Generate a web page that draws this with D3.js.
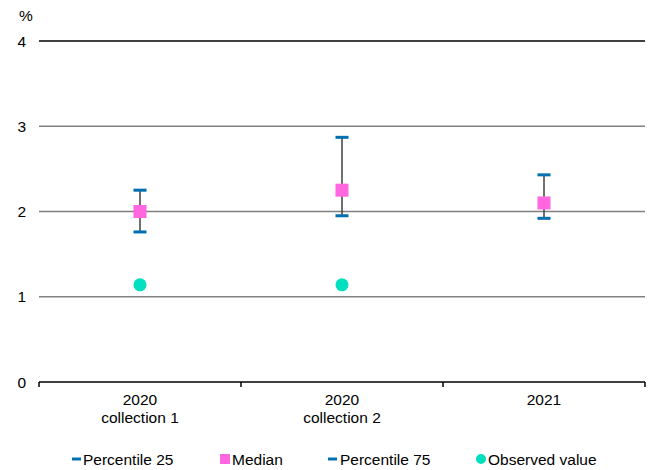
<!DOCTYPE html>
<html><head><meta charset="utf-8">
<script src="https://cdn.jsdelivr.net/npm/d3@7"></script>
<style>body{margin:0;background:#fff;} text{font-family:"Liberation Sans",Arial,sans-serif;}</style>
</head><body><svg id="c" width="654" height="470"></svg>
<script>
const categories = [["2020","collection 1"],["2020","collection 2"],["2021"]];
const p25 = [1.76, 1.95, 1.92];
const median = [2.0, 2.25, 2.10];
const p75 = [2.25, 2.87, 2.43];
const observed = [1.14, 1.14, null];
const yTicks = [0,1,2,3,4];

const FS = 15.5;
const svg = d3.select("#c");
const x = d3.scaleBand().domain(d3.range(categories.length)).range([39,645]);
const y = d3.scaleLinear().domain([0,4]).range([382,41]);

// gridlines
svg.append("g").selectAll("line").data(yTicks.filter(d=>d>0)).join("line")
  .attr("x1",39).attr("x2",645).attr("y1",d=>y(d)).attr("y2",d=>y(d))
  .attr("stroke",d=>d===4?"#000":"#808080").attr("stroke-width",1.3);

// y tick labels
svg.append("g").selectAll("text").data(yTicks).join("text")
  .attr("x",26).attr("y",d=>y(d)+5.5).attr("text-anchor","end")
  .attr("font-size",FS).attr("fill","#000").text(d=>d);
svg.append("text").attr("x",19).attr("y",21).attr("font-size",FS).text("%");

// x axis
svg.append("line").attr("x1",39).attr("x2",645).attr("y1",y(0)).attr("y2",y(0)).attr("stroke","#000").attr("stroke-width",1.5);
const bounds = d3.range(categories.length+1).map(i=> i<categories.length ? x(i) : x(i-1)+x.bandwidth());
svg.append("g").selectAll("line").data(bounds).join("line")
  .attr("x1",d=>d).attr("x2",d=>d).attr("y1",y(0)).attr("y2",y(0)+5).attr("stroke","#000").attr("stroke-width",1.5);
const cl = svg.append("g").selectAll("text").data(categories).join("text")
  .attr("x",(d,i)=>x(i)+x.bandwidth()/2).attr("text-anchor","middle").attr("font-size",FS);
cl.each(function(d){
  const t=d3.select(this);
  d.forEach((s,j)=>t.append("tspan").attr("x",t.attr("x")).attr("y",405+j*18).text(s));
});

const cx = i => x(i)+x.bandwidth()/2;
const idx = d3.range(categories.length);
// whiskers
svg.append("g").selectAll("line").data(idx).join("line")
  .attr("x1",cx).attr("x2",cx).attr("y1",i=>y(p25[i])).attr("y2",i=>y(p75[i]))
  .attr("stroke","#404040").attr("stroke-width",1.5);
// caps
const capW=13, capH=3;
[p25,p75].forEach(arr=>{
  svg.append("g").selectAll("rect").data(idx).join("rect")
    .attr("x",i=>cx(i)-capW/2).attr("y",i=>y(arr[i])-capH/2).attr("width",capW).attr("height",capH)
    .attr("fill","#0070b0");
});
// median
svg.append("g").selectAll("rect").data(idx).join("rect")
  .attr("x",i=>cx(i)-6.5).attr("y",i=>y(median[i])-6.5).attr("width",13).attr("height",13).attr("fill","#ff66e0");
// observed
svg.append("g").selectAll("circle").data(idx.filter(i=>observed[i]!=null)).join("circle")
  .attr("cx",cx).attr("cy",i=>y(observed[i])).attr("r",6.5).attr("fill","#00e0c0");

// legend
const lg = svg.append("g");
const ly = 459;
lg.append("rect").attr("x",72).attr("y",ly-1.5).attr("width",9).attr("height",3).attr("fill","#0070b0");
lg.append("text").attr("x",83).attr("y",ly+6).attr("font-size",FS).text("Percentile 25");
lg.append("rect").attr("x",220).attr("y",ly-5).attr("width",10).attr("height",10).attr("fill","#ff66e0");
lg.append("text").attr("x",232).attr("y",ly+6).attr("font-size",FS).text("Median");
lg.append("rect").attr("x",328).attr("y",ly-1.5).attr("width",9).attr("height",3).attr("fill","#0070b0");
lg.append("text").attr("x",340).attr("y",ly+6).attr("font-size",FS).text("Percentile 75");
lg.append("circle").attr("cx",481).attr("cy",ly).attr("r",5).attr("fill","#00e0c0");
lg.append("text").attr("x",488).attr("y",ly+6).attr("font-size",FS).text("Observed value");
</script></body></html>
